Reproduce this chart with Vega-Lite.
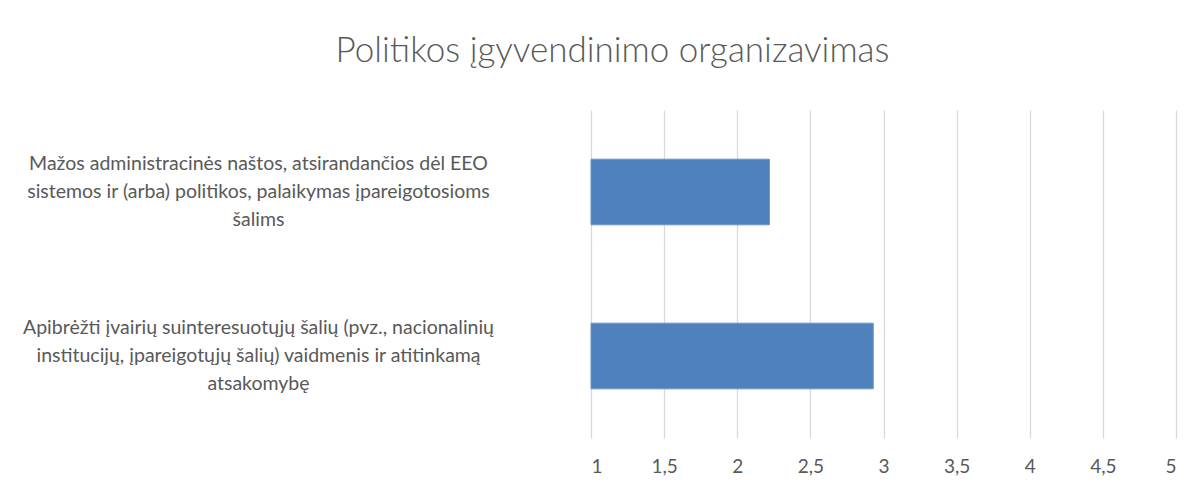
{
  "$schema": "https://vega.github.io/schema/vega-lite/v6.json",
  "autosize": {"type": "none"},
  "width": 585,
  "height": 328,
  "padding": {"left": 591, "top": 110, "right": 27, "bottom": 55},
  "background": "white",
  "title": {
    "text": "Politikos įgyvendinimo organizavimas",
    "font": "Lato",
    "fontSize": 35,
    "fontWeight": 300,
    "color": "#595959",
    "anchor": "middle",
    "frame": "group",
    "baseline": "alphabetic",
    "offset": 13,
    "dx": -271
  },
  "data": {
    "values": [
      {"label": "Mažos administracinės naštos, atsirandančios dėl EEO|sistemos ir (arba) politikos, palaikymas įpareigotosioms|šalims", "value": 2.22},
      {"label": "Apibrėžti įvairių suinteresuotųjų šalių (pvz., nacionalinių|institucijų, įpareigotųjų šalių) vaidmenis ir atitinkamą|atsakomybę", "value": 2.93}
    ]
  },
  "mark": {"type": "bar", "color": "#4f81bd", "stroke": "#6b94c8", "strokeWidth": 1},
  "encoding": {
    "y": {
      "field": "label",
      "type": "nominal",
      "sort": null,
      "scale": {"paddingInner": 0.6, "paddingOuter": 0.3},
      "axis": {
        "title": null,
        "domain": false,
        "ticks": false,
        "labelAlign": "center",
        "labelBaseline": "middle",
        "labelPadding": 333,
        "labelOffset": -28,
        "labelFont": "Lato",
        "labelFontSize": 19.5,
        "labelColor": "#595959",
        "labelLineHeight": 28,
        "labelLimit": 0,
        "labelExpr": "split(datum.label, '|')"
      }
    },
    "x": {
      "field": "value",
      "type": "quantitative",
      "scale": {"domain": [1, 5], "zero": false, "nice": false},
      "axis": {
        "title": null,
        "values": [1, 1.5, 2, 2.5, 3, 3.5, 4, 4.5, 5],
        "format": "~g",
        "domain": false,
        "ticks": false,
        "grid": true,
        "gridColor": "#d9d9d9",
        "gridWidth": 1.3,
        "labelFont": "Lato",
        "labelFontSize": 19,
        "labelColor": "#595959",
        "labelPadding": 19,
        "labelExpr": "replace(datum.label, '.', ',')"
      }
    },
    "x2": {"datum": 1}
  },
  "config": {"view": {"stroke": null}}
}
